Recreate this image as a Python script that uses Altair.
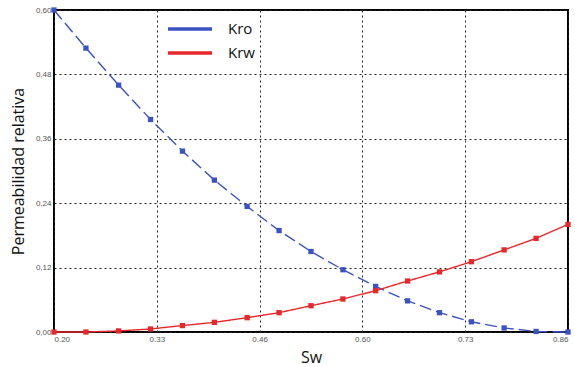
import altair as alt
import pandas as pd

sw = [0.2, 0.241, 0.283, 0.324, 0.365, 0.406, 0.448, 0.489, 0.53,
      0.571, 0.613, 0.654, 0.695, 0.736, 0.778, 0.819, 0.86]
kro = [0.600, 0.529, 0.460, 0.396, 0.337, 0.283, 0.234, 0.189, 0.150,
       0.116, 0.085, 0.058, 0.036, 0.019, 0.0075, 0.001, 0.0]
krw = [0.0, 0.0, 0.002, 0.0056, 0.012, 0.018, 0.0267, 0.036, 0.049,
       0.0615, 0.077, 0.095, 0.112, 0.131, 0.153, 0.1745, 0.2005]
series = ["Kro", "Krw"]
styles = ["dashed", "solid"]
colors = ["#3d52c2", "#e8272b"]
x_ticks = [0.2, 0.332, 0.464, 0.596, 0.728, 0.86]
y_ticks = [0.0, 0.12, 0.24, 0.36, 0.48, 0.60]

df = pd.concat([
    pd.DataFrame({"Sw": sw, "Kr": kro, "serie": series[0], "estilo": styles[0]}),
    pd.DataFrame({"Sw": sw, "Kr": krw, "serie": series[1], "estilo": styles[1]}),
])

x = alt.X("Sw:Q", scale=alt.Scale(domain=[0.2, 0.86], nice=False, zero=False),
          axis=alt.Axis(values=x_ticks, format=".2f", title="Sw",
                        titleBaseline="middle", titleY=25))
y = alt.Y("Kr:Q", scale=alt.Scale(domain=[0, 0.6], nice=False),
          axis=alt.Axis(values=y_ticks, title="Permeabilidad relativa",
                        labelExpr="replace(format(datum.value, '.2f'), '.', ',')",
                        titleX=-36, titleBaseline="middle"))

color = alt.Color("serie:N", scale=alt.Scale(domain=series, range=colors),
                  legend=alt.Legend(orient="none", legendX=112, legendY=10.5,
                                    title=None, symbolType="stroke",
                                    symbolStrokeWidth=3.5, symbolSize=1936,
                                    labelFontSize=15, labelFont="Open Sans",
                                    labelColor="#111", labelOffset=14,
                                    clipHeight=17, rowPadding=7, padding=0))
dash = alt.StrokeDash("estilo:N", scale=alt.Scale(domain=styles, range=[[12, 5], [1, 0]]),
                      legend=None)

chart = alt.Chart(df).mark_line(
    strokeWidth=1.4,
    point=alt.OverlayMarkDef(shape="square", size=28, filled=True, opacity=1),
).encode(x=x, y=y, color=color, strokeDash=dash, order="Sw:Q").properties(
    width=514, height=322,
    background="white",
    autosize=alt.AutoSizeParams(type="none"),
    padding={"left": 54, "top": 10, "right": 7, "bottom": 35},
).configure_view(
    stroke="#000", strokeWidth=2
).configure_axis(
    domain=False, ticks=False,
    grid=True, gridColor="#222", gridDash=[2, 3], gridWidth=1, gridOpacity=1,
    labelFont="Liberation Sans", labelFontSize=8, labelColor="#555",
    labelPadding=3,
    titleFont="Open Sans", titleFontSize=16, titleFontWeight="normal", titleColor="#111",
)

chart.save("out.html", embed_options={"renderer": "svg", "actions": False})
